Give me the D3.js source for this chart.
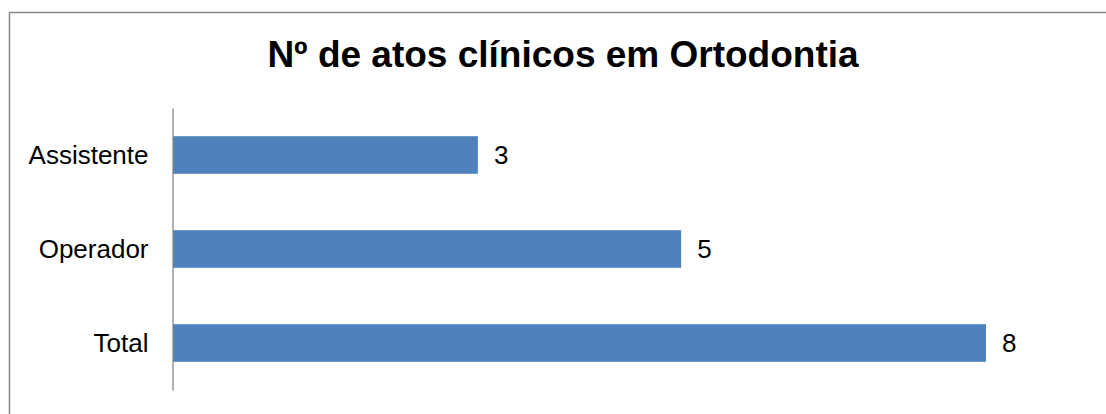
<!DOCTYPE html>
<html>
<head>
<meta charset="utf-8">
<script src="https://cdn.jsdelivr.net/npm/d3@7/dist/d3.min.js"></script>
<style>
  html, body { margin: 0; padding: 0; background: #fff; }
  svg { display: block; }
  text { font-family: "Liberation Sans", Arial, sans-serif; }
</style>
</head>
<body>
<svg id="chart" width="1106" height="414"></svg>
<script>
const title = "Nº de atos clínicos em Ortodontia";
const categories = ["Assistente", "Operador", "Total"];
const values = [3, 5, 8];
const xDomain = [0, 8];

const svg = d3.select("#chart");
const W = 1106, H = 414;

svg.append("rect").attr("x", W * 0).attr("width", W).attr("height", H).attr("fill", "#fff");

// outer border (right and bottom lie outside the viewport)
svg.append("rect")
  .attr("x", 9.5).attr("y", 12.5)
  .attr("width", W + 20).attr("height", H + 20)
  .attr("fill", "none").attr("stroke", "#888").attr("stroke-width", 1.5);

svg.append("text")
  .attr("x", 563).attr("y", 67)
  .attr("text-anchor", "middle")
  .attr("font-size", 37).attr("font-weight", "bold").attr("fill", "#000")
  .text(title);

const x = d3.scaleLinear().domain(xDomain).range([173, 986]);
const y = d3.scaleBand().domain(categories).range([108, 390])
  .paddingInner(0.6).paddingOuter(0.3);

svg.selectAll("rect.bar").data(values).enter().append("rect")
  .attr("class", "bar")
  .attr("x", x(0))
  .attr("y", (d, i) => y(categories[i]))
  .attr("width", d => x(d) - x(0))
  .attr("height", y.bandwidth())
  .attr("fill", "#4f81bd");

svg.selectAll("text.val").data(values).enter().append("text")
  .attr("class", "val")
  .attr("x", d => x(d) + 16)
  .attr("y", (d, i) => y(categories[i]) + y.bandwidth() / 2)
  .attr("dy", "0.36em")
  .attr("font-size", 26).attr("fill", "#000")
  .text(d => d);

const axis = svg.append("g")
  .attr("transform", `translate(${x(0) - 0.5},0)`)
  .call(d3.axisLeft(y).tickSize(0).tickSizeOuter(0).tickPadding(24));
axis.select(".domain").attr("stroke", "#888").attr("stroke-width", 1.3);
axis.selectAll(".tick text")
  .attr("font-size", 26).attr("fill", "#000")
  .attr("font-family", "'Liberation Sans', Arial, sans-serif")
  .attr("dy", "0.36em");
</script>
</body>
</html>
